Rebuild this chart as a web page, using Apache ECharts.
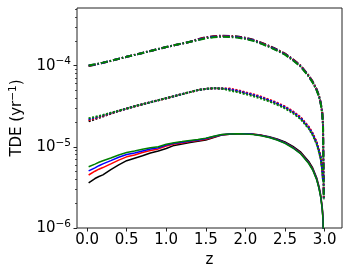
<!DOCTYPE html>
<html><head><meta charset="utf-8">
<script src="https://cdn.jsdelivr.net/npm/echarts@6/dist/echarts.min.js"></script>
<style>html,body{margin:0;padding:0;background:#fff}#c{width:350px;height:274px}</style>
</head><body><div id="c"></div>
<script>
const z = [0.02,0.1,0.15,0.2,0.3,0.4,0.5,0.6,0.7,0.8,0.9,1.0,1.1,1.2,1.3,1.4,1.5,1.6,1.7,1.8,1.9,2.0,2.1,2.2,2.3,2.4,2.5,2.6,2.7,2.8,2.85,2.9,2.93,2.95,2.97,2.98,2.99];

// dashed group (upper)
const dashBlack = [0.995e-4,1.028e-4,1.057e-4,1.086e-4,1.148e-4,1.216e-4,1.288e-4,1.361e-4,1.439e-4,1.521e-4,1.607e-4,1.698e-4,1.786e-4,1.879e-4,1.972e-4,2.128e-4,2.249e-4,2.317e-4,2.344e-4,2.333e-4,2.291e-4,2.208e-4,2.089e-4,1.928e-4,1.758e-4,1.585e-4,1.413e-4,1.202e-4,1.000e-4,7.586e-5,6.383e-5,5.129e-5,4.266e-5,3.548e-5,2.692e-5,1.905e-5,2.239e-6];
const dashRed   = [1.000e-4,1.033e-4,1.057e-4,1.086e-4,1.148e-4,1.216e-4,1.288e-4,1.361e-4,1.439e-4,1.521e-4,1.607e-4,1.698e-4,1.786e-4,1.879e-4,1.972e-4,2.107e-4,2.227e-4,2.294e-4,2.321e-4,2.310e-4,2.268e-4,2.186e-4,2.068e-4,1.909e-4,1.740e-4,1.569e-4,1.399e-4,1.190e-4,9.90e-5,7.51e-5,6.32e-5,5.08e-5,4.22e-5,3.51e-5,2.67e-5,1.89e-5,2.24e-6];
const dashBlue  = [1.005e-4,1.038e-4,1.060e-4,1.088e-4,1.150e-4,1.217e-4,1.288e-4,1.361e-4,1.439e-4,1.521e-4,1.607e-4,1.698e-4,1.786e-4,1.879e-4,1.972e-4,2.085e-4,2.204e-4,2.271e-4,2.297e-4,2.286e-4,2.245e-4,2.164e-4,2.047e-4,1.889e-4,1.723e-4,1.553e-4,1.385e-4,1.178e-4,9.80e-5,7.43e-5,6.26e-5,5.03e-5,4.18e-5,3.48e-5,2.64e-5,1.87e-5,2.24e-6];
const dashGreen = [1.010e-4,1.043e-4,1.065e-4,1.092e-4,1.152e-4,1.218e-4,1.288e-4,1.361e-4,1.439e-4,1.521e-4,1.607e-4,1.698e-4,1.786e-4,1.879e-4,1.972e-4,2.064e-4,2.182e-4,2.247e-4,2.274e-4,2.263e-4,2.222e-4,2.142e-4,2.026e-4,1.870e-4,1.705e-4,1.537e-4,1.371e-4,1.166e-4,9.70e-5,7.36e-5,6.19e-5,4.98e-5,4.14e-5,3.44e-5,2.61e-5,1.85e-5,2.24e-6];

// dotted group (middle)
const dotBlack = [2.06e-5,2.19e-5,2.28e-5,2.37e-5,2.56e-5,2.76e-5,2.965e-5,3.162e-5,3.350e-5,3.548e-5,3.758e-5,3.981e-5,4.217e-5,4.467e-5,4.732e-5,5.012e-5,5.188e-5,5.272e-5,5.248e-5,5.129e-5,4.898e-5,4.624e-5,4.365e-5,4.074e-5,3.758e-5,3.428e-5,3.090e-5,2.692e-5,2.265e-5,1.738e-5,1.445e-5,1.122e-5,8.913e-6,7.413e-6,5.370e-6,3.981e-6];
const dotRed   = [2.13e-5,2.25e-5,2.33e-5,2.41e-5,2.59e-5,2.78e-5,2.965e-5,3.162e-5,3.350e-5,3.548e-5,3.758e-5,3.981e-5,4.217e-5,4.467e-5,4.732e-5,5.012e-5,5.188e-5,5.272e-5,5.248e-5,5.23e-5,5.00e-5,4.72e-5,4.45e-5,4.16e-5,3.83e-5,3.50e-5,3.15e-5,2.75e-5,2.31e-5,1.77e-5,1.47e-5,1.14e-5,9.07e-6,7.54e-6,5.46e-6,4.05e-6];
const dotBlue  = [2.19e-5,2.29e-5,2.36e-5,2.44e-5,2.61e-5,2.79e-5,2.965e-5,3.162e-5,3.350e-5,3.548e-5,3.758e-5,3.981e-5,4.217e-5,4.467e-5,4.732e-5,5.012e-5,5.188e-5,5.272e-5,5.248e-5,5.129e-5,4.898e-5,4.624e-5,4.365e-5,4.074e-5,3.758e-5,3.428e-5,3.090e-5,2.692e-5,2.265e-5,1.738e-5,1.445e-5,1.122e-5,8.913e-6,7.413e-6,5.370e-6,3.981e-6];
const dotGreen = [2.25e-5,2.34e-5,2.40e-5,2.47e-5,2.63e-5,2.80e-5,2.965e-5,3.162e-5,3.350e-5,3.548e-5,3.758e-5,3.981e-5,4.217e-5,4.467e-5,4.732e-5,5.012e-5,5.188e-5,5.272e-5,5.248e-5,4.95e-5,4.73e-5,4.46e-5,4.21e-5,3.93e-5,3.63e-5,3.31e-5,2.98e-5,2.60e-5,2.19e-5,1.68e-5,1.39e-5,1.08e-5,8.60e-6,7.15e-6,5.18e-6,3.84e-6];

// solid group (lower)
const solBlack = [3.60e-6,4.074e-6,4.315e-6,4.519e-6,5.248e-6,5.998e-6,6.761e-6,7.244e-6,7.762e-6,8.414e-6,8.913e-6,9.550e-6,1.042e-5,1.084e-5,1.135e-5,1.169e-5,1.216e-5,1.303e-5,1.396e-5,1.429e-5,1.452e-5,1.452e-5,1.435e-5,1.396e-5,1.334e-5,1.250e-5,1.148e-5,1.012e-5,8.610e-6,6.607e-6,5.495e-6,4.169e-6,3.236e-6,2.570e-6,1.820e-6,1.349e-6,5.0e-7];
const solRed   = [4.50e-6,5.012e-6,5.309e-6,5.559e-6,6.166e-6,6.871e-6,7.534e-6,7.943e-6,8.511e-6,9.016e-6,9.441e-6,1.023e-5,1.084e-5,1.117e-5,1.161e-5,1.197e-5,1.245e-5,1.324e-5,1.406e-5,1.435e-5,1.455e-5,1.452e-5,1.429e-5,1.387e-5,1.318e-5,1.230e-5,1.127e-5,9.886e-6,8.356e-6,6.383e-6,5.309e-6,4.027e-6,3.126e-6,2.483e-6,1.758e-6,1.303e-6,5.0e-7];
const solBlue  = [5.05e-6,5.521e-6,5.861e-6,6.166e-6,6.761e-6,7.447e-6,8.054e-6,8.414e-6,8.913e-6,9.397e-6,9.772e-6,1.052e-5,1.109e-5,1.140e-5,1.180e-5,1.216e-5,1.268e-5,1.340e-5,1.413e-5,1.439e-5,1.455e-5,1.449e-5,1.426e-5,1.380e-5,1.312e-5,1.222e-5,1.117e-5,9.772e-6,8.260e-6,6.310e-6,5.248e-6,3.981e-6,3.090e-6,2.455e-6,1.738e-6,1.288e-6,5.0e-7];
const solGreen = [5.68e-6,6.138e-6,6.457e-6,6.730e-6,7.295e-6,7.943e-6,8.511e-6,8.913e-6,9.376e-6,9.772e-6,1.005e-5,1.079e-5,1.127e-5,1.161e-5,1.197e-5,1.230e-5,1.282e-5,1.349e-5,1.419e-5,1.442e-5,1.452e-5,1.445e-5,1.419e-5,1.374e-5,1.303e-5,1.213e-5,1.107e-5,9.683e-6,8.185e-6,6.237e-6,5.188e-6,3.936e-6,3.055e-6,2.427e-6,1.718e-6,1.274e-6,5.0e-7];

const xTicks = [0,0.5,1.0,1.5,2.0,2.5,3.0];
const yMin = 1e-6, yMax = 5.15e-4;
const yMajor = [1e-6,1e-5,1e-4];
const yMajorLabels = ['−6','−5','−4'];
const yMinor = [2e-6,3e-6,4e-6,5e-6,6e-6,7e-6,8e-6,9e-6,2e-5,3e-5,4e-5,5e-5,6e-5,7e-5,8e-5,9e-5,2e-4,3e-4,4e-4,5e-4];

const colors = {black:'#000000', red:'#ff0000', blue:'#0000ff', green:'#008000'};
const FONT = 'DejaVu Sans';
const FS = 15;

function pairs(arr){ return arr.map((v,i)=>[z[i], v]); }
function mk(arr, color, type, w){
  return {type:'line', yAxisIndex:0, data:pairs(arr), showSymbol:false, symbol:'none', clip:true,
    lineStyle:{color:color, width:w, type:type}, itemStyle:{color:color}, animation:false, z:2};
}
const dashT = [7,2,1.5,2];
const dotT = [2,1.6];
const series = [
  mk(dashBlack,colors.black,dashT,2), mk(dashRed,colors.red,dashT,2), mk(dashBlue,colors.blue,dashT,2), mk(dashGreen,colors.green,dashT,2),
  mk(dotBlack,colors.black,dotT,2), mk(dotRed,colors.red,dotT,2), mk(dotBlue,colors.blue,dotT,2), mk(dotGreen,colors.green,dotT,2),
  mk(solBlack,colors.black,'solid',1.5), mk(solRed,colors.red,'solid',1.5), mk(solBlue,colors.blue,'solid',1.5), mk(solGreen,colors.green,'solid',1.5)
];

// helper axes in exponent space (for ticks/labels of the log axis)
const eMin = Math.log10(yMin), eMax = Math.log10(yMax);
const eMajor = yMajor.map(v=>Math.log10(v));
const eMinor = yMinor.map(v=>Math.log10(v));

const chart = echarts.init(document.getElementById('c'), null, {renderer:'canvas'});
chart.setOption({
  animation:false,
  backgroundColor:'#ffffff',
  grid:{left:71, right:8, top:8, bottom:46, show:true, borderColor:'#222', borderWidth:1, backgroundColor:'transparent'},
  xAxis:{type:'value', min:-0.127, max:3.22,
    name:'z', nameLocation:'middle', nameGap:21,
    nameTextStyle:{fontFamily:FONT, fontSize:FS, color:'#000'},
    axisLine:{show:false},
    splitLine:{show:false},
    axisTick:{show:true, length:3.5, customValues:xTicks, lineStyle:{color:'#222', width:1}},
    axisLabel:{customValues:xTicks, margin:5, fontFamily:FONT, fontSize:FS, color:'#000',
      formatter:v=>v.toFixed(1)}
  },
  yAxis:[
    {type:'log', logBase:10, min:yMin, max:yMax, show:false, splitLine:{show:false}},
    {type:'value', min:eMin, max:eMax, position:'left',
      name:'{a|TDE (yr}{s|−1}{a|)}', nameLocation:'middle', nameGap:50, nameRotate:90,
      nameTextStyle:{fontFamily:FONT, fontSize:FS, color:'#000',
        rich:{a:{fontFamily:FONT, fontSize:FS, color:'#000'}, s:{fontFamily:FONT, fontSize:10.5, color:'#000', padding:[0,0,8,0]}}},
      axisLine:{show:false},
      splitLine:{show:false},
      axisTick:{show:true, length:3.5, customValues:eMajor, lineStyle:{color:'#222', width:1}},
      axisLabel:{customValues:eMajor, margin:6, fontFamily:FONT, fontSize:FS, color:'#000',
        formatter:function(v){ const i = eMajor.findIndex(t=>Math.abs(t-v)<1e-6); return '{b|10}{s|'+(i>=0?yMajorLabels[i]:'')+'}'; },
        rich:{b:{fontFamily:FONT, fontSize:FS, color:'#000'}, s:{fontFamily:FONT, fontSize:10.5, color:'#000', padding:[0,0,8,0]}}}
    },
    {type:'value', min:eMin, max:eMax, position:'left',
      axisLine:{show:false}, splitLine:{show:false},
      axisTick:{show:true, length:2, customValues:eMinor, lineStyle:{color:'#222', width:0.8}},
      axisLabel:{show:false}
    }
  ],
  series:series
});
</script>
</body></html>
